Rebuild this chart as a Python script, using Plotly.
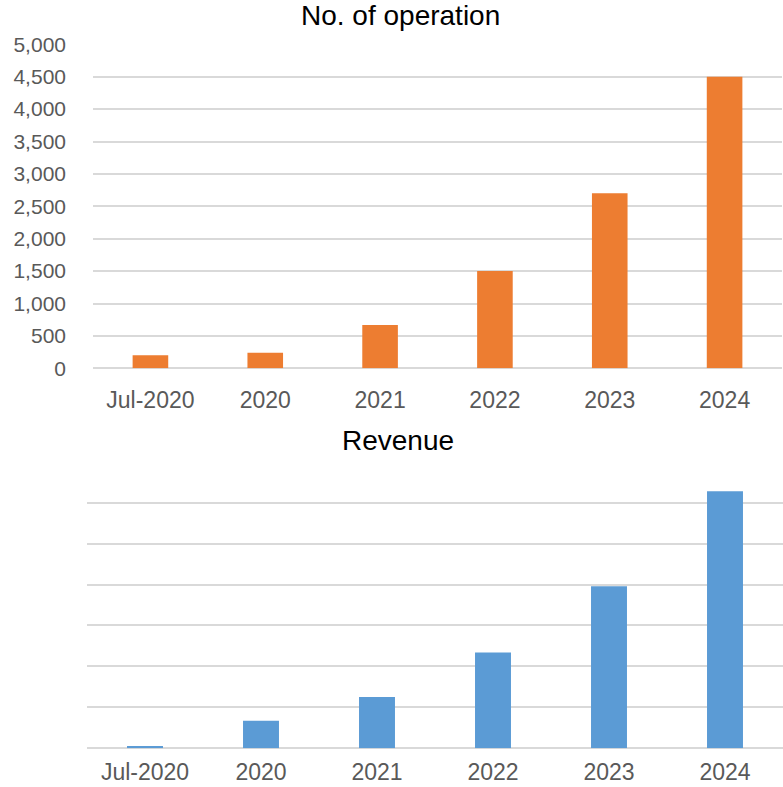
import plotly.graph_objects as go

categories = ["Jul-2020", "2020", "2021", "2022", "2023", "2024"]
operations = [200, 240, 668, 1500, 2700, 4500]
revenue = [0.056, 0.67, 1.25, 2.34, 3.96, 6.28]  # in gridline units (axis unlabeled)

FONT = "Liberation Sans, Arial, sans-serif"
GRID = "#D9D9D9"
TICK = "#595959"
W, H = 783, 787

fig = go.Figure()
fig.add_trace(go.Bar(x=categories, y=operations, marker=dict(color="#ED7D31", line=dict(width=0)),
                     xaxis="x", yaxis="y", showlegend=False))
fig.add_trace(go.Bar(x=categories, y=revenue, marker=dict(color="#5B9BD5", line=dict(width=0)),
                     xaxis="x2", yaxis="y2", showlegend=False))

def py(p):
    return 1 - p / H

fig.update_layout(
    template="none",
    width=W, height=H,
    margin=dict(l=0, r=0, t=0, b=0),
    paper_bgcolor="white", plot_bgcolor="white",
    bargap=0.69,
    font=dict(family=FONT, color=TICK),
    xaxis=dict(type="category", domain=[93 / W, 782 / W], anchor="y", showgrid=False, showline=False,
               automargin=False, tickfont=dict(size=23, color=TICK), ticks="", ticklabelstandoff=16),
    yaxis=dict(domain=[py(368.3), py(44.3)], anchor="x", range=[0, 5000], dtick=500, automargin=False,
               tickformat=",d", showgrid=True, gridcolor=GRID, gridwidth=2,
               zeroline=True, zerolinecolor=GRID, zerolinewidth=2, showline=False, ticks="",
               tickfont=dict(size=21, color=TICK), ticklabelstandoff=26),
    xaxis2=dict(type="category", domain=[87 / W, 1.0], anchor="y2", showgrid=False, showline=False,
                automargin=False, tickfont=dict(size=23, color=TICK), ticks="", ticklabelstandoff=8),
    yaxis2=dict(domain=[py(748.3), py(461.7)], anchor="x2", range=[0, 7], dtick=1, automargin=False,
                showticklabels=False, showgrid=True, gridcolor=GRID, gridwidth=2, showline=False, ticks="",
                zeroline=True, zerolinecolor=GRID, zerolinewidth=2),
    annotations=[
        dict(text="No. of operation", x=400 / W, xref="paper", y=py(16), yref="paper",
             xanchor="center", yanchor="middle", showarrow=False,
             font=dict(size=28, color="black", family=FONT)),
        dict(text="Revenue", x=398 / W, xref="paper", y=py(441), yref="paper",
             xanchor="center", yanchor="middle", showarrow=False,
             font=dict(size=28, color="black", family=FONT)),
    ],
)

fig.write_html("out.html")
